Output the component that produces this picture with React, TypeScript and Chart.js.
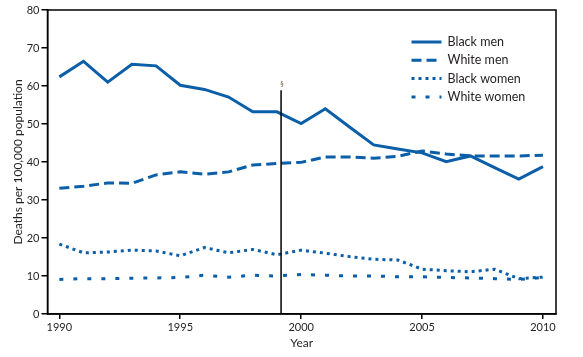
import React, { useEffect, useRef } from "react";
import { Chart, registerables } from "chart.js";

Chart.register(...registerables);

const years = [1990, 1991, 1992, 1993, 1994, 1995, 1996, 1997, 1998, 1999, 2000, 2001, 2002, 2003, 2004, 2005, 2006, 2007, 2008, 2009, 2010];
const blackMen = [62.4, 66.5, 61.0, 65.7, 65.3, 60.2, 59.1, 57.1, 53.2, 53.2, 50.1, 54.0, 49.2, 44.5, 43.4, 42.4, 40.1, 41.6, 38.5, 35.5, 38.8];
const whiteMen = [33.1, 33.6, 34.5, 34.4, 36.6, 37.4, 36.8, 37.4, 39.2, 39.6, 39.9, 41.3, 41.3, 41.0, 41.5, 42.9, 42.1, 41.6, 41.6, 41.6, 41.8];
const blackWomen = [18.4, 16.1, 16.3, 16.8, 16.6, 15.3, 17.5, 16.1, 17.0, 15.6, 16.8, 16.0, 15.1, 14.4, 14.2, 11.8, 11.4, 11.1, 11.8, 9.3, 9.7];
const whiteWomen = [9.1, 9.3, 9.3, 9.4, 9.5, 9.6, 10.2, 9.7, 10.2, 10.0, 10.4, 10.2, 10.0, 10.0, 9.8, 9.8, 9.6, 9.5, 9.3, 9.1, 9.6];
const seriesLabels = ["Black men", "White men", "Black women", "White women"];
const xTicks = [1990, 1995, 2000, 2005, 2010];
const yTicks = [0, 10, 20, 30, 40, 50, 60, 70, 80];
const markerYear = 1999.17;
const markerTop = 58.9;
const markerLabel = "§";

const BLUE = "#0b5ea8";
const TEXT = "#231f20";
const FONT = "Lato, 'Open Sans', sans-serif";
const dashes: number[][] = [[], [10, 5], [3, 4], [4, 10]];

export default function App() {
  const ref = useRef<HTMLCanvasElement | null>(null);
  useEffect(() => {
    if (!ref.current) return;
    const seriesData = [blackMen, whiteMen, blackWomen, whiteWomen];
    const overlay = {
      id: "overlay",
      afterDraw(chart: any) {
        const { ctx, chartArea, scales } = chart;
        ctx.save();
        ctx.strokeStyle = "#000";
        ctx.lineWidth = 1.5;
        ctx.strokeRect(chartArea.left, chartArea.top, chartArea.right - chartArea.left, chartArea.bottom - chartArea.top);
        const mx = scales.x.getPixelForValue(markerYear);
        const my = scales.y.getPixelForValue(markerTop);
        ctx.beginPath();
        ctx.moveTo(mx, my);
        ctx.lineTo(mx, chartArea.bottom);
        ctx.lineWidth = 1.5;
        ctx.stroke();
        ctx.fillStyle = "#6b5a40";
        ctx.font = `7px ${FONT}`;
        ctx.textAlign = "center";
        ctx.textBaseline = "bottom";
        ctx.fillText(markerLabel, mx + 1, my - 2);
        const lx = chartArea.left + 364;
        const ly = chartArea.top + 32;
        for (let i = 0; i < seriesLabels.length; i++) {
          const y = ly + i * 18.3;
          ctx.beginPath();
          ctx.setLineDash(dashes[i]);
          ctx.strokeStyle = BLUE;
          ctx.lineWidth = 3;
          ctx.moveTo(lx, y);
          ctx.lineTo(lx + 30, y);
          ctx.stroke();
          ctx.setLineDash([]);
          ctx.fillStyle = TEXT;
          ctx.font = `12.5px ${FONT}`;
          ctx.textAlign = "left";
          ctx.textBaseline = "middle";
          ctx.fillText(seriesLabels[i], lx + 36, y);
        }
        ctx.restore();
      },
    };
    const chart = new Chart(ref.current, {
      type: "line",
      data: {
        datasets: seriesData.map((d, i) => ({
          label: seriesLabels[i],
          data: d.map((v, j) => ({ x: years[j], y: v })),
          borderColor: BLUE,
          borderWidth: 3,
          borderDash: dashes[i],
          pointRadius: 0,
          tension: 0,
          fill: false,
        })),
      },
      options: {
        animation: false,
        responsive: false,
        maintainAspectRatio: false,
        layout: { padding: { top: 10, right: 27, left: 0, bottom: 0 } },
        plugins: { legend: { display: false }, tooltip: { enabled: false } },
        scales: {
          x: {
            type: "linear",
            min: 1989.51,
            max: 2010.54,
            afterBuildTicks: (s: any) => { s.ticks = xTicks.map((v) => ({ value: v })); },
            afterFit: (s: any) => { s.height = 43; },
            grid: { display: true, drawOnChartArea: false, drawTicks: true, tickLength: 5, color: "#000", lineWidth: 1.5 },
            border: { display: true, color: "#000", width: 1.5 },
            ticks: { color: TEXT, font: { family: FONT, size: 11 }, padding: 2, maxRotation: 0, callback: (v: any) => String(v) },
            title: { display: true, text: "Year", color: TEXT, font: { family: FONT, size: 12 }, padding: { top: 4, bottom: 7 } },
          },
          y: {
            type: "linear",
            min: 0,
            max: 80,
            afterBuildTicks: (s: any) => { s.ticks = yTicks.map((v) => ({ value: v })); },
            afterFit: (s: any) => { s.width = 47.5; },
            grid: { display: true, drawOnChartArea: false, drawTicks: true, tickLength: 6, color: "#000", lineWidth: 1.5 },
            border: { display: true, color: "#000", width: 1.5 },
            ticks: { color: TEXT, font: { family: FONT, size: 11 }, padding: 2 },
            title: { display: true, text: "Deaths per 100,000 population", color: TEXT, font: { family: FONT, size: 12 }, padding: { top: 11, bottom: 2 } },
          },
        },
      },
      plugins: [overlay],
    });
    return () => chart.destroy();
  }, []);
  return (
    <div style={{ position: "fixed", left: 0, top: 0, width: 583, height: 357, background: "#fff" }}>
      <canvas ref={ref} width={583} height={357} style={{ width: 583, height: 357 }} />
    </div>
  );
}
